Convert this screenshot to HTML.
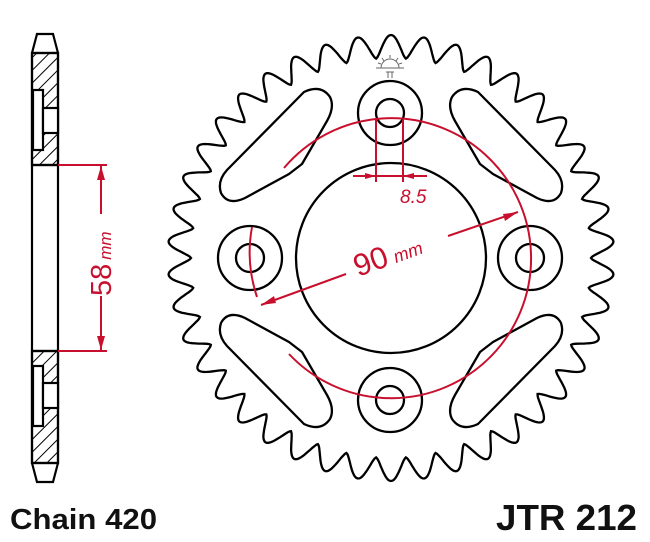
<!DOCTYPE html>
<html><head><meta charset="utf-8"><style>
html,body{margin:0;padding:0;background:#fff;width:650px;height:542px;overflow:hidden}
svg{display:block}
</style></head><body>
<svg id="s" width="650" height="542" viewBox="0 0 650 542" xmlns="http://www.w3.org/2000/svg">
<defs>
<pattern id="h" width="9" height="9" patternUnits="userSpaceOnUse" patternTransform="rotate(45)">
<line x1="0" y1="0" x2="0" y2="9" stroke="#000" stroke-width="2"/>
</pattern>
</defs>
<g stroke="#000" stroke-width="2.2" fill="none">
<path d="M37,34 L53,34 L58,53 L58,463 L53,482 L37,482 L32,463 L32,53 Z" fill="#fff"/>
<line x1="32" y1="53" x2="58" y2="53"/>
<line x1="32" y1="463" x2="58" y2="463"/>
<rect x="32" y="53" width="26" height="112" fill="url(#h)"/>
<rect x="32" y="351" width="26" height="112" fill="url(#h)"/>
<rect x="33" y="90" width="10" height="60" fill="#fff"/>
<rect x="43" y="108" width="15" height="25" fill="#fff"/>
<rect x="33" y="366" width="10" height="60" fill="#fff"/>
<rect x="43" y="383" width="15" height="25" fill="#fff"/>
<line x1="32" y1="165" x2="58" y2="165"/>
<line x1="32" y1="351" x2="58" y2="351"/>
</g>
<g stroke="#c8102e" stroke-width="2" fill="#c8102e">
<line x1="58" y1="165" x2="107" y2="165"/>
<line x1="58" y1="351" x2="107" y2="351"/>
<line x1="101" y1="166" x2="101" y2="214"/>
<line x1="101" y1="296" x2="101" y2="350"/>
<path d="M101,166 L97,180 L105,180 Z" stroke="none"/>
<path d="M101,350 L97,336 L105,336 Z" stroke="none"/>
</g>
<text transform="translate(111,296) rotate(-90)" font-family="Liberation Sans, sans-serif" fill="#c8102e" font-size="29">58<tspan font-size="17" font-style="italic" dx="4">mm</tspan></text>
<path id="teeth" fill="none" stroke="#000" stroke-width="2.3" d=""/>
<g stroke="#000" stroke-width="2.3" fill="none">
<circle cx="391" cy="258" r="95"/>
<circle cx="390" cy="113" r="32"/><circle cx="390" cy="113" r="14"/>
<circle cx="390" cy="400" r="32"/><circle cx="390" cy="400" r="14"/>
<circle cx="250" cy="258" r="32"/><circle cx="250" cy="258" r="14"/>
<circle cx="530" cy="258" r="32"/><circle cx="530" cy="258" r="14"/>
<g id="slot"><path d="M304,92 Q321,84 330,97 Q335,107 327,121 L302,164 L289,174 L245,198 Q228,206 221,193 Q217,181 227,170 Z" stroke-linejoin="round"/></g>
<use href="#slot" transform="translate(782,0) scale(-1,1)"/>
<use href="#slot" transform="translate(0,516) scale(1,-1)"/>
<use href="#slot" transform="translate(782,516) scale(-1,-1)"/>
</g>
<g stroke="#666" stroke-width="1" fill="none">
<path d="M381,68 A9,9 0 0 1 399,68"/>
<line x1="376" y1="68" x2="404" y2="68"/>
<line x1="390" y1="55" x2="390" y2="58"/><line x1="382" y1="58" x2="384" y2="61"/><line x1="398" y1="58" x2="396" y2="61"/>
<line x1="378" y1="63" x2="381" y2="64"/><line x1="402" y1="63" x2="399" y2="64"/>
<path d="M386,72 L394,72 M388,72 L388,78 M392,72 L392,78"/>
</g>
<g stroke="#c8102e" stroke-width="2" fill="none">
<path d="M284,168 A140,140 0 1 1 289,354"/>
<path d="M252,227 A140,140 0 0 0 257,297"/>
<line x1="376" y1="120" x2="376" y2="182"/>
<line x1="403" y1="120" x2="403" y2="182"/>
<line x1="353" y1="176" x2="427" y2="176"/>
<line x1="261" y1="305" x2="346" y2="274"/>
<line x1="448" y1="236" x2="518" y2="212"/>
</g>
<g fill="#c8102e">
<path d="M376,176 L365,173 L365,179 Z"/>
<path d="M403,176 L414,173 L414,179 Z"/>
<path d="M261,305 L274,296 L276,303 Z"/>
<path d="M518,212 L505,221 L503,214 Z"/>
</g>
<text x="400" y="203" font-family="Liberation Sans, sans-serif" font-style="italic" font-size="19" fill="#c8102e">8.5</text>
<text transform="translate(358,277) rotate(-20)" font-family="Liberation Sans, sans-serif" fill="#c8102e" font-size="31">90<tspan font-size="18" font-style="italic" dx="6">mm</tspan></text>
<text x="10" y="529" font-family="Liberation Sans Narrow, Liberation Sans, sans-serif" font-weight="bold" font-size="29" fill="#111" textLength="147" lengthAdjust="spacingAndGlyphs">Chain 420</text>
<text x="496" y="530" font-family="Liberation Sans Narrow, Liberation Sans, sans-serif" font-weight="bold" font-size="36" fill="#111" textLength="141" lengthAdjust="spacingAndGlyphs">JTR 212</text>
</svg>
<script>
(function(){
var N=42,cx=391,cy=258,Rr=200,Rt=223,pts=[],M=N*24;
for(var k=0;k<=M;k++){
 var t=k/M*2*Math.PI;
 var c=0.5+0.5*Math.cos(N*t);
 var g=Math.pow(c,0.75);
 var r=Rr+(Rt-Rr)*g;
 var a=t-Math.PI/2;
 pts.push((cx+r*Math.cos(a)).toFixed(1)+","+(cy+r*Math.sin(a)).toFixed(1));
}
document.getElementById("teeth").setAttribute("d","M"+pts.join(" L")+" Z");
})();
</script>
</body></html>
